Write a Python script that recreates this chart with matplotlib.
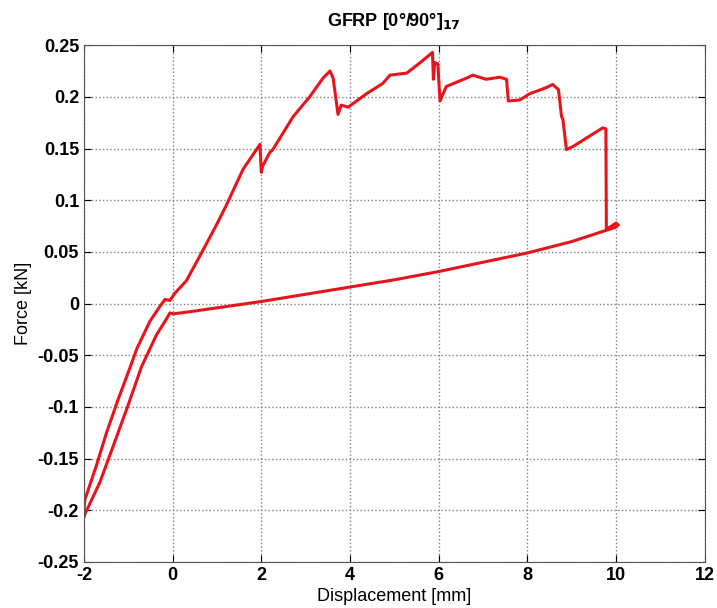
import numpy as np
import matplotlib
matplotlib.use("Agg")
import matplotlib.pyplot as plt

plt.rcParams["font.family"] = ["Liberation Sans", "DejaVu Sans"]
plt.rcParams["axes.unicode_minus"] = False

# loading branch
load_x = [-2.00, -1.98, -1.72, -1.49, -1.23, -0.96, -0.81, -0.51, -0.29, -0.17,
          -0.06, 0.05, 0.31, 0.69, 1.00, 1.21, 1.59, 1.97, 2.00, 2.03, 2.19,
          2.26, 2.72, 3.09, 3.39, 3.55, 3.62, 3.73, 3.80, 3.96, 4.37,
          4.74, 4.90, 5.28, 5.58, 5.86, 5.88, 5.91, 5.98, 6.03, 6.17,
          6.62, 6.77, 7.07, 7.38, 7.53, 7.57, 7.83, 8.05, 8.43, 8.57,
          8.70, 8.77, 8.80, 8.88, 9.03, 9.40, 9.70, 9.77, 9.78, 9.90,
          10.00, 10.04]
load_y = [-0.203, -0.190, -0.157, -0.125, -0.093, -0.062, -0.044, -0.017, -0.003, 0.004,
          0.003, 0.010, 0.022, 0.052, 0.077, 0.095, 0.130, 0.154, 0.127, 0.133, 0.146,
          0.149, 0.181, 0.200, 0.218, 0.225, 0.218, 0.183, 0.192, 0.190, 0.203,
          0.213, 0.221, 0.223, 0.233, 0.243, 0.217, 0.233, 0.232, 0.196, 0.210,
          0.218, 0.221, 0.217, 0.219, 0.217, 0.196, 0.197, 0.203, 0.209, 0.212,
          0.207, 0.181, 0.178, 0.149, 0.152, 0.162, 0.170, 0.169, 0.072, 0.075,
          0.078, 0.076]

# unloading branch
unload_x = [10.04, 10.00, 9.00, 8.00, 7.00, 6.00, 5.00, 4.00, 3.00, 2.00,
            0.47, 0.01, -0.06, -0.14, -0.36, -0.70, -1.00, -1.34, -1.64, -1.98, -2.00]
unload_y = [0.076, 0.074, 0.060, 0.049, 0.040, 0.031, 0.023, 0.016, 0.009, 0.002,
            -0.0074, -0.010, -0.009, -0.015, -0.030, -0.061, -0.098, -0.138, -0.173, -0.204, -0.207]

fig = plt.figure(figsize=(7.17, 6.08), dpi=100)
ax = fig.add_axes([0.117, 0.0757, 0.866, 0.850])

red = "#e8141b"
ax.plot(load_x, load_y, color=red, linewidth=2.2)
ax.plot(unload_x, unload_y, color=red, linewidth=2.2)

ax.set_xlim(-2, 12)
ax.set_ylim(-0.25, 0.25)
ax.set_xticks(np.arange(-2, 13, 2))
ax.set_yticks(np.arange(-0.25, 0.26, 0.05))
ax.set_yticklabels(["-0.25", "-0.2", "-0.15", "-0.1", "-0.05", "0",
                    "0.05", "0.1", "0.15", "0.2", "0.25"])

ax.grid(True, linestyle=":", color="#808080", linewidth=1.0)
ax.tick_params(direction="in", top=True, right=True, length=5, labelsize=13)
for lbl in ax.get_xticklabels() + ax.get_yticklabels():
    lbl.set_fontweight("bold")
for s in ax.spines.values():
    s.set_color("#555555")

ax.set_xlabel("Displacement [mm]", fontsize=13, labelpad=3)
ax.set_ylabel("Force [kN]", fontsize=13, labelpad=4)
ax.set_title(r"GFRP [0°/90°]$_\mathbf{17}$", fontsize=13, fontweight="bold", pad=14)

plt.savefig("out.png", dpi=100)
